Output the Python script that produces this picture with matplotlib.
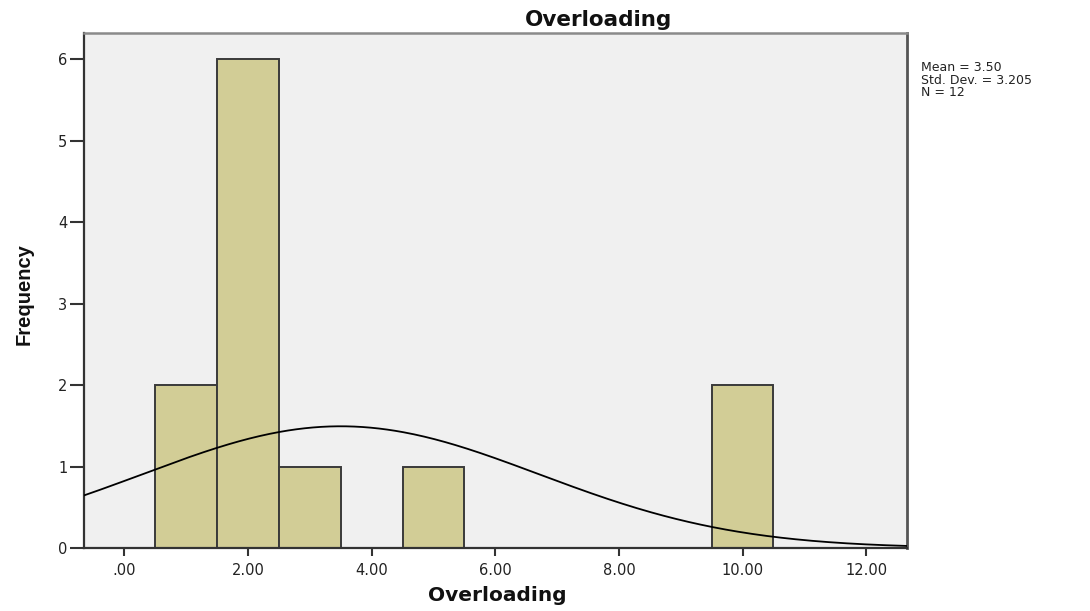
import numpy as np
import matplotlib
matplotlib.use("Agg")
import matplotlib.pyplot as plt

# Histogram of Overloading scores (bin width 1)
bin_centers = [1, 2, 3, 5, 10]
frequencies = [2, 6, 1, 1, 2]
x_ticks = [0, 2, 4, 6, 8, 10, 12]
x_tick_labels = [".00", "2.00", "4.00", "6.00", "8.00", "10.00", "12.00"]
y_ticks = [0, 1, 2, 3, 4, 5, 6]
mean_val = 3.50
std_val = 3.205
n_obs = 12

W, H = 1090, 611
fig = plt.figure(figsize=(W / 100, H / 100), dpi=100)
fig.patch.set_facecolor("white")

left, right, top, bottom = 84, 907, 33, 548
ax = fig.add_axes([left / W, 1 - bottom / H, (right - left) / W, (bottom - top) / H])
ax.set_facecolor("#F0F0F0")

ax.bar(bin_centers, frequencies, width=1.0, color="#D2CD96",
       edgecolor="#3A3A3A", linewidth=1.4, zorder=2)

xmin, xmax = -0.652, 12.66
ax.set_xlim(xmin, xmax)
ax.set_ylim(0, 6.32)

# Normal curve scaled to counts
xs = np.linspace(xmin, xmax, 400)
ys = n_obs * 1.0 / (std_val * np.sqrt(2 * np.pi)) * np.exp(-0.5 * ((xs - mean_val) / std_val) ** 2)
ax.plot(xs, ys, color="black", linewidth=1.3, zorder=3)

ax.set_xticks(x_ticks)
ax.set_xticklabels(x_tick_labels)
ax.set_yticks(y_ticks)
ax.set_yticklabels([str(v) for v in y_ticks])

for lab in ax.get_xticklabels() + ax.get_yticklabels():
    lab.set_fontfamily("DejaVu Sans")
    lab.set_fontsize(10.5)
    lab.set_color("#222222")

ax.tick_params(axis="y", direction="out", length=10, width=1.5, color="#333333", pad=2)
ax.tick_params(axis="x", direction="out", length=6, width=1.5, color="#333333", pad=5)

for side in ["left", "bottom"]:
    ax.spines[side].set_color("#333333")
    ax.spines[side].set_linewidth(1.6)
ax.spines["top"].set_color("#8A8A8A")
ax.spines["top"].set_linewidth(1.8)
ax.spines["right"].set_color("#555555")
ax.spines["right"].set_linewidth(2.0)

# Titles
fig.text(599 / W, 1 - 26 / H, "Overloading", ha="center", va="baseline",
         family="DejaVu Sans", weight="bold", size=15.5, color="#111111")
fig.text(497 / W, 1 - 601 / H, "Overloading", ha="center", va="baseline",
         family="DejaVu Sans", weight="bold", size=14.5, color="#111111")
fig.text(24 / W, 1 - 294 / H, "Frequency", ha="center", va="center", rotation=90,
         family="Liberation Sans", weight="bold", size=14.5, color="#111111")

# Summary statistics
stats = [f"Mean = {mean_val:.2f}", f"Std. Dev. = {std_val:.3f}", f"N = {n_obs}"]
for i, s in enumerate(stats):
    fig.text(921 / W, 1 - (71 + 12.5 * i) / H, s, ha="left", va="baseline",
             family="DejaVu Sans", size=9, color="#222222")

fig.savefig("out.png", dpi=100)
